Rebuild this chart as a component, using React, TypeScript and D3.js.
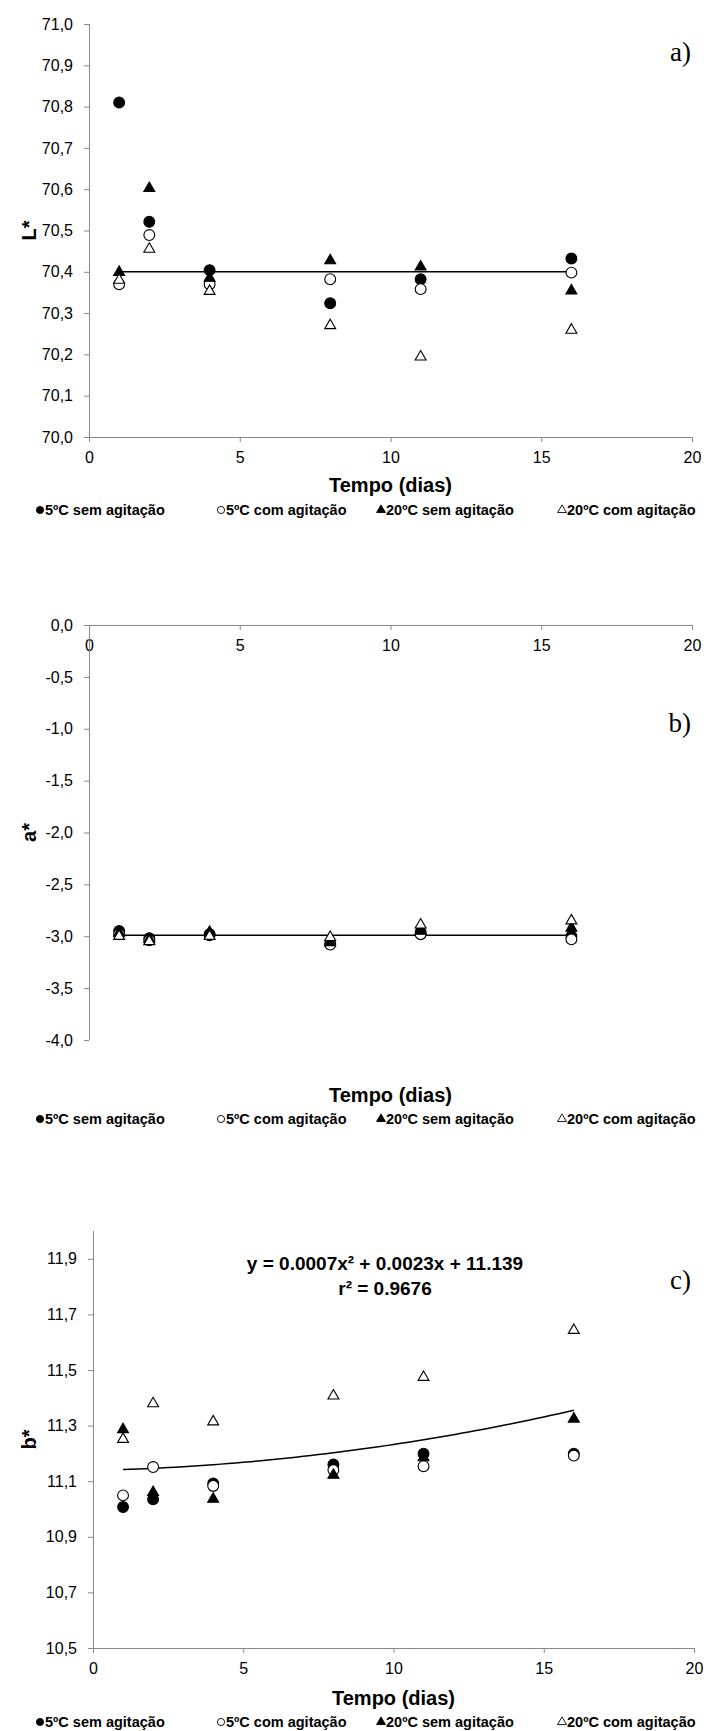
import React, { useRef, useEffect } from 'react'
import * as d3 from 'd3'

// days of storage
const days = [1, 2, 4, 8, 11, 16]
const seriesLabels = ['5ºC sem agitação', '5ºC com agitação', '20ºC sem agitação', '20ºC com agitação']
const seriesShapes = ['circle', 'circle', 'triangle', 'triangle']
const seriesFilled = [true, false, true, false]

// L*
const lSem5 = [70.81, 70.521, 70.404, 70.324, 70.382, 70.432]
const lCom5 = [70.37, 70.489, 70.37, 70.382, 70.358, 70.398]
const lSem20 = [70.399, 70.602, 70.385, 70.427, 70.412, 70.354]
const lCom20 = [70.38, 70.455, 70.353, 70.27, 70.194, 70.259]
const lMean = 70.4

// a*
const aSem5 = [-2.95, -3.02, -2.98, -3.07, -2.96, -3.0]
const aCom5 = [-2.98, -3.04, -2.99, -3.08, -2.98, -3.03]
const aSem20 = [-2.97, -3.03, -2.96, -3.06, -2.95, -2.92]
const aCom20 = [-3.0, -3.05, -3.0, -3.01, -2.89, -2.85]
const aMean = -2.99

// b*
const bSem5 = [11.007, 11.035, 11.092, 11.16, 11.199, 11.199]
const bCom5 = [11.049, 11.151, 11.083, 11.14, 11.154, 11.192]
const bSem20 = [11.286, 11.06, 11.036, 11.122, 11.185, 11.324]
const bCom20 = [11.251, 11.379, 11.314, 11.407, 11.474, 11.643]
const bFitCoef = [0.0007, 0.0023, 11.139]
const bEquation = ['y = 0.0007x² + 0.0023x + 11.139', 'r² = 0.9676']

const xTicks = [0, 5, 10, 15, 20]
const lTicks = [70.0, 70.1, 70.2, 70.3, 70.4, 70.5, 70.6, 70.7, 70.8, 70.9, 71.0]
const aTicks = [-4.0, -3.5, -3.0, -2.5, -2.0, -1.5, -1.0, -0.5, 0.0]
const bTicks = [10.5, 10.7, 10.9, 11.1, 11.3, 11.5, 11.7, 11.9]

const W = 707
const H = 1731
const axisColor = '#888888'
const sans = "'Liberation Sans', Arial, sans-serif"

const fmt = (v) => d3.format('.1f')(v).replace('.', ',').replace('−', '-')

function drawPanel(svg, p) {
  const g = svg.append('g')
  const x = d3.scaleLinear().domain([0, 20]).range([p.left, p.right])
  const y = d3.scaleLinear().domain(p.domain).range([p.bottom, p.top])

  // x axis (at the top for a*, since its max is 0)
  const xAxisY = p.xAxisAtTop ? p.top : p.bottom
  const gx = g.append('g')
    .attr('transform', 'translate(0,' + xAxisY + ')')
    .call(d3.axisBottom(x).tickValues(xTicks).tickSize(5).tickSizeOuter(0).tickPadding(10))
  gx.select('.domain').attr('stroke', axisColor)
  gx.selectAll('.tick line').attr('stroke', axisColor)
  gx.selectAll('.tick text').attr('font-size', 16).attr('font-family', sans).attr('fill', '#000')

  // y axis
  const gy = g.append('g')
    .attr('transform', 'translate(' + p.left + ',0)')
    .call(d3.axisLeft(y).tickValues(p.ticks).tickFormat(fmt).tickSize(5).tickSizeOuter(0).tickPadding(11))
  gy.select('.domain').attr('stroke', axisColor).attr('d', 'M0.5,' + p.top + 'V' + p.bottom)
  gy.selectAll('.tick line').attr('stroke', axisColor)
  gy.selectAll('.tick text').attr('font-size', 16).attr('font-family', sans).attr('fill', '#000')

  // trend line
  const line = d3.line().x((d) => x(d[0])).y((d) => y(d[1]))
  g.append('path')
    .datum(p.fit)
    .attr('d', line)
    .attr('fill', 'none')
    .attr('stroke', '#000')
    .attr('stroke-width', 1.5)

  // points
  p.series.forEach((vals, si) => {
    const sym = d3.symbol()
      .type(seriesShapes[si] === 'circle' ? d3.symbolCircle : d3.symbolTriangle)
      .size(seriesShapes[si] === 'circle' ? 92 : 52)
    g.append('g')
      .selectAll('path')
      .data(vals)
      .join('path')
      .attr('d', sym)
      .attr('transform', (d, i) => 'translate(' + x(days[i]) + ',' + y(d) + ')')
      .attr('fill', seriesFilled[si] ? '#000' : '#fff')
      .attr('stroke', '#000')
      .attr('stroke-width', 1.1)
  })

  // axis titles
  g.append('text')
    .attr('x', (p.left + p.right) / 2)
    .attr('y', p.titleY)
    .attr('text-anchor', 'middle')
    .attr('font-family', sans)
    .attr('font-weight', 'bold')
    .attr('font-size', 20)
    .text('Tempo (dias)')

  g.append('text')
    .attr('transform', 'translate(36,' + (p.top + p.bottom) / 2 + ') rotate(-90)')
    .attr('text-anchor', 'middle')
    .attr('font-family', sans)
    .attr('font-weight', 'bold')
    .attr('font-size', 20)
    .text(p.yLabel)

  g.append('text')
    .attr('x', 691)
    .attr('y', p.letterY)
    .attr('text-anchor', 'end')
    .attr('font-family', "'Liberation Serif', 'Times New Roman', serif")
    .attr('font-size', 27)
    .text(p.letter)

  // legend
  const legendX = [40, 221, 381, 562]
  seriesLabels.forEach((name, si) => {
    const lg = g.append('g').attr('transform', 'translate(' + legendX[si] + ',' + p.legendY + ')')
    lg.append('path')
      .attr('d', d3.symbol()
        .type(seriesShapes[si] === 'circle' ? d3.symbolCircle : d3.symbolTriangle)
        .size(seriesShapes[si] === 'circle' ? 40 : 34))
      .attr('fill', seriesFilled[si] ? '#000' : '#fff')
      .attr('stroke', '#000')
      .attr('stroke-width', 0.9)
    lg.append('text')
      .attr('x', 5)
      .attr('y', 5)
      .attr('font-family', sans)
      .attr('font-weight', 'bold')
      .attr('font-size', 14.5)
      .text(name)
  })
  return { g, x, y }
}

export default function App() {
  const ref = useRef(null)

  useEffect(() => {
    const svg = d3.select(ref.current)
    svg.selectAll('*').remove()

    drawPanel(svg, {
      left: 89, right: 692, top: 24, bottom: 437,
      domain: [70, 71], ticks: lTicks, xAxisAtTop: false,
      series: [lSem5, lCom5, lSem20, lCom20],
      fit: [[1, lMean], [16, lMean]],
      yLabel: 'L*', letter: 'a)', letterY: 61,
      titleY: 492, legendY: 510,
    })

    drawPanel(svg, {
      left: 89, right: 692, top: 625, bottom: 1040,
      domain: [-4, 0], ticks: aTicks, xAxisAtTop: true,
      series: [aSem5, aCom5, aSem20, aCom20],
      fit: [[1, aMean], [16, aMean]],
      yLabel: 'a*', letter: 'b)', letterY: 732,
      titleY: 1102, legendY: 1119,
    })

    const curve = d3.range(1, 16.01, 0.25).map((t) => [t, bFitCoef[0] * t * t + bFitCoef[1] * t + bFitCoef[2]])
    const c = drawPanel(svg, {
      left: 93, right: 694, top: 1231, bottom: 1648,
      domain: [10.5, 12.0], ticks: bTicks, xAxisAtTop: false,
      series: [bSem5, bCom5, bSem20, bCom20],
      fit: curve,
      yLabel: 'b*', letter: 'c)', letterY: 1289,
      titleY: 1705, legendY: 1722,
    })

    c.g.append('g')
      .selectAll('text')
      .data(bEquation)
      .join('text')
      .attr('x', 385)
      .attr('y', (d, i) => 1270 + i * 25)
      .attr('text-anchor', 'middle')
      .attr('font-family', sans)
      .attr('font-weight', 'bold')
      .attr('font-size', 19)
      .text((d) => d)
  }, [])

  return (
    <svg
      ref={ref}
      width={W}
      height={H}
      style={{ position: 'absolute', left: 0, top: 0, background: '#fff' }}
    ></svg>
  )
}
